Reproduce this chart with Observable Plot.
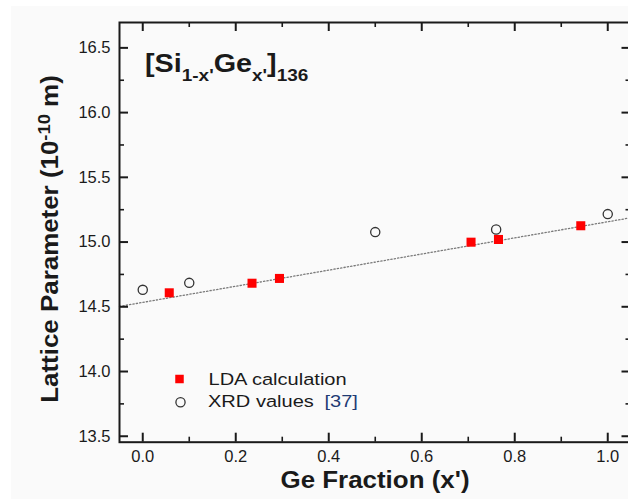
<!DOCTYPE html>
<html><head><meta charset="utf-8">
<script src="https://cdn.jsdelivr.net/npm/d3@7"></script>
<script src="https://cdn.jsdelivr.net/npm/@observablehq/plot@0.6"></script>
<style>
html,body{margin:0;padding:0;background:#fff;overflow:hidden;width:628px;height:499px;}
#bg{position:absolute;left:11px;top:6px;right:0;bottom:0;background:#fafafa;}
#chart{position:absolute;left:0;top:0;}
</style></head><body><div id="bg"></div><div id="chart"></div>
<script>
// ---- data ----
const ldaX = [0.057, 0.235, 0.294, 0.706, 0.765, 0.942];
const ldaY = [14.608, 14.682, 14.719, 14.999, 15.020, 15.126];
const xrdX = [0.0, 0.1, 0.5, 0.76, 1.0];
const xrdY = [14.631, 14.685, 15.077, 15.097, 15.216];
const fitX = [-0.05, 1.05];
const fitY = [14.503, 15.188];
const xMajor = [0, 0.2, 0.4, 0.6, 0.8, 1.0];
const xMinor = [0.1, 0.3, 0.5, 0.7, 0.9];
const yMajor = [13.5, 14.0, 14.5, 15.0, 15.5, 16.0, 16.5];
const yMinor = [13.75, 14.25, 14.75, 15.25, 15.75, 16.25];
const legendLabels = ["LDA calculation", "XRD values"];
const legendRef = "[37]";
const annParts = ["[Si", "1-x'", "Ge", "x'", "]", "136"];
const xTitle = "Ge Fraction (x')";
const yTitleParts = ["Lattice Parameter (10", "-10", " m)"];

const lda = ldaX.map((x, i) => ({x, y: ldaY[i]}));
const xrd = xrdX.map((x, i) => ({x, y: xrdY[i]}));
const fit = fitX.map((x, i) => ({x, y: fitY[i]}));

const FONT = "'Liberation Sans', Arial, Helvetica, sans-serif";
const W = 632, H = 499, mL = 119, mR = 1.5, mT = 22, mB = 57.3;
const PW = W - mL - mR, PH = H - mT - mB;
const xDom = [-0.05, 1.05], yDom = [13.454, 16.696];
const ink = "#1a1a1a";
// tick lengths (pixels) expressed in data units of each scale
const kx = (xDom[1] - xDom[0]) / PW, ky = (yDom[1] - yDom[0]) / PH;
const tickX = (vals, len, side) => Plot.ruleX(vals, {
  x: d => d,
  y1: side === "bottom" ? yDom[0] : yDom[1],
  y2: side === "bottom" ? yDom[0] + len * ky : yDom[1] - len * ky,
  stroke: ink, strokeWidth: len > 6 ? 2 : 1.6
});
const tickY = (vals, len, side) => Plot.ruleY(vals, {
  y: d => d,
  x1: side === "left" ? xDom[0] : xDom[1],
  x2: side === "left" ? xDom[0] + len * kx : xDom[1] - len * kx,
  stroke: ink, strokeWidth: len > 6 ? 2 : 1.6
});

const svg = Plot.plot({
  width: W, height: H,
  marginLeft: mL, marginRight: mR, marginTop: mT, marginBottom: mB,
  style: {background: "transparent", maxWidth: "none", fontFamily: FONT, color: ink},
  x: {domain: xDom},
  y: {domain: yDom},
  marks: [
    Plot.line(fit, {x: "x", y: "y", stroke: "#7a7a7a", strokeWidth: 1.3, strokeDasharray: "1.3,2.1"}),
    tickX(xMajor, 9, "bottom"), tickX(xMajor, 9, "top"),
    tickX(xMinor, 5, "bottom"), tickX(xMinor, 5, "top"),
    tickY(yMajor, 9, "left"), tickY(yMajor, 9, "right"),
    tickY(yMinor, 5, "left"), tickY(yMinor, 5, "right"),
    Plot.frame({stroke: ink, strokeWidth: 2}),
    Plot.axisX({ticks: xMajor, tickSize: 0, tickPadding: 8.5, tickFormat: d3.format(".1f"), fontSize: 16.5, label: null}),
    Plot.axisY({ticks: yMajor, tickSize: 0, tickPadding: 9, tickFormat: d3.format(".1f"), fontSize: 16.5, label: null}),
    Plot.dot(lda, {x: "x", y: "y", symbol: "square", fill: "#ff0000", r: 5.1}),
    Plot.dot(xrd, {x: "x", y: "y", r: 4.6, stroke: "#333", strokeWidth: 1.3, fill: "none"}),
    // legend symbols
    Plot.dot([legendLabels[0]], {x: null, y: null, frameAnchor: "top-left", dx: 60, dy: 356.5, symbol: "square", fill: "#ff0000", r: 4.8}),
    Plot.dot([legendLabels[1]], {x: null, y: null, frameAnchor: "top-left", dx: 61, dy: 379.7, r: 4.6, stroke: "#333", strokeWidth: 1.3, fill: "none"})
  ]
});
document.getElementById("chart").appendChild(svg);

const s = d3.select(svg);
// annotation [Si1-x'Gex']136
const ann = s.append("text").attr("transform", "translate(145,72) scale(1.15,1)")
  .attr("text-anchor", "start")
  .attr("font-family", FONT).attr("font-weight", "bold").attr("font-size", 25).attr("fill", ink);
annParts.forEach((p, i) => {
  const t = ann.append("tspan").text(p);
  if (i % 2 === 1) t.attr("font-size", 16.5).attr("dy", 9);
  else if (i > 0) t.attr("dy", -9);
});
// y title
const yt = s.append("text").attr("transform", "translate(58,239) rotate(-90) scale(1.08,1)")
  .attr("text-anchor", "middle").attr("font-family", FONT).attr("font-weight", "bold")
  .attr("font-size", 24).attr("fill", ink);
yt.append("tspan").text(yTitleParts[0]);
yt.append("tspan").attr("font-size", 17).attr("dy", -8).text(yTitleParts[1]);
yt.append("tspan").attr("dy", 8).text(yTitleParts[2]);
// x title
s.append("text").attr("transform", "translate(375,488) scale(1.08,1)").attr("text-anchor", "middle")
  .attr("font-family", FONT).attr("font-weight", "bold").attr("font-size", 24).attr("fill", ink)
  .text(xTitle);
// legend labels
s.append("text").attr("transform", "translate(208.5,385) scale(1.18,1)").attr("text-anchor", "start")
  .attr("font-family", FONT).attr("font-size", 17).attr("fill", ink).text(legendLabels[0]);
const l2 = s.append("text").attr("transform", "translate(208,406.7) scale(1.18,1)").attr("text-anchor", "start")
  .attr("font-family", FONT).attr("font-size", 17).attr("fill", ink);
l2.append("tspan").text(legendLabels[1]);
l2.append("tspan").attr("dx", 9).attr("fill", "#1f3b73").text(legendRef);
</script></body></html>
